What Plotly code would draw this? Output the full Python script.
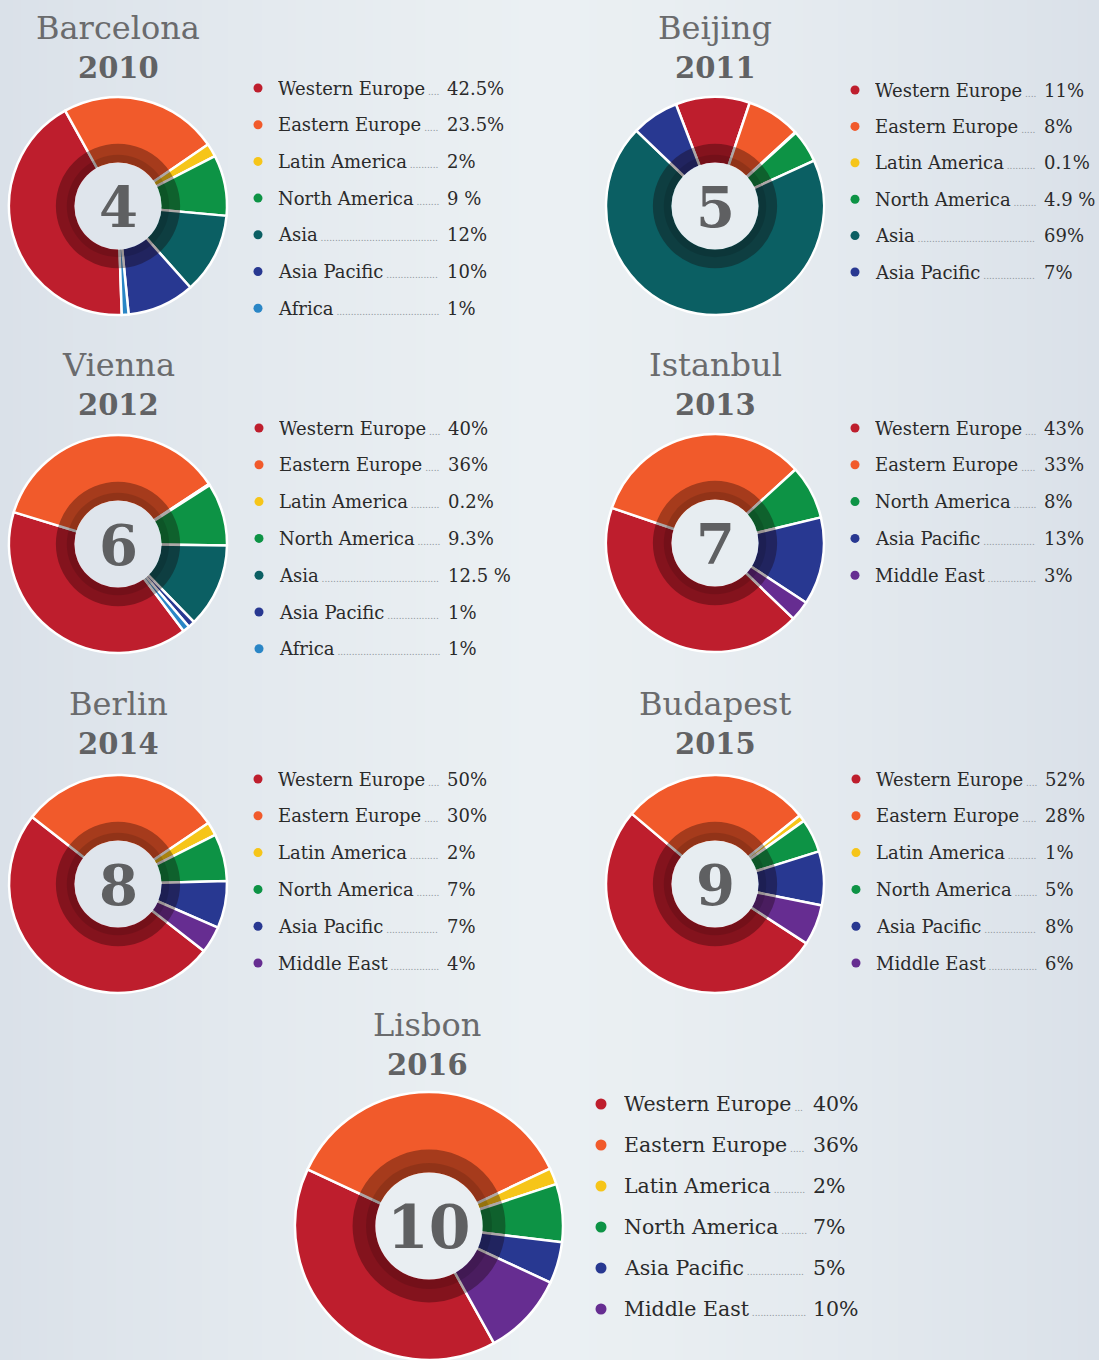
import base64
import struct
import zlib

import plotly.graph_objects as go

W, H = 1099, 1360

# ---------------- data ----------------
region_colors = {
    "Western Europe": "#be1e2d",
    "Eastern Europe": "#f15a2b",
    "Latin America": "#f6c519",
    "North America": "#0d9345",
    "Asia": "#0b5f63",
    "Asia Pacific": "#283891",
    "Africa": "#2a86c6",
    "Middle East": "#662d91",
}

cities = ["Barcelona", "Beijing", "Vienna", "Istanbul", "Berlin", "Budapest", "Lisbon"]
years = ["2010", "2011", "2012", "2013", "2014", "2015", "2016"]
editions = ["4", "5", "6", "7", "8", "9", "10"]

barcelona_regions = ["Western Europe", "Eastern Europe", "Latin America", "North America", "Asia", "Asia Pacific", "Africa"]
barcelona_values = [42.5, 23.5, 2, 9, 12, 10, 1]
barcelona_text = ["42.5%", "23.5%", "2%", "9 %", "12%", "10%", "1%"]

beijing_regions = ["Western Europe", "Eastern Europe", "Latin America", "North America", "Asia", "Asia Pacific"]
beijing_values = [11, 8, 0.1, 4.9, 69, 7]
beijing_text = ["11%", "8%", "0.1%", "4.9 %", "69%", "7%"]

vienna_regions = ["Western Europe", "Eastern Europe", "Latin America", "North America", "Asia", "Asia Pacific", "Africa"]
vienna_values = [40, 36, 0.2, 9.3, 12.5, 1, 1]
vienna_text = ["40%", "36%", "0.2%", "9.3%", "12.5 %", "1%", "1%"]

istanbul_regions = ["Western Europe", "Eastern Europe", "North America", "Asia Pacific", "Middle East"]
istanbul_values = [43, 33, 8, 13, 3]
istanbul_text = ["43%", "33%", "8%", "13%", "3%"]

berlin_regions = ["Western Europe", "Eastern Europe", "Latin America", "North America", "Asia Pacific", "Middle East"]
berlin_values = [50, 30, 2, 7, 7, 4]
berlin_text = ["50%", "30%", "2%", "7%", "7%", "4%"]

budapest_regions = ["Western Europe", "Eastern Europe", "Latin America", "North America", "Asia Pacific", "Middle East"]
budapest_values = [52, 28, 1, 5, 8, 6]
budapest_text = ["52%", "28%", "1%", "5%", "8%", "6%"]

lisbon_regions = ["Western Europe", "Eastern Europe", "Latin America", "North America", "Asia Pacific", "Middle East"]
lisbon_values = [40, 36, 2, 7, 5, 10]
lisbon_text = ["40%", "36%", "2%", "7%", "5%", "10%"]

panel_regions = [barcelona_regions, beijing_regions, vienna_regions, istanbul_regions,
                 berlin_regions, budapest_regions, lisbon_regions]
panel_values = [barcelona_values, beijing_values, vienna_values, istanbul_values,
                berlin_values, budapest_values, lisbon_values]
panel_text = [barcelona_text, beijing_text, vienna_text, istanbul_text,
              berlin_text, budapest_text, lisbon_text]

# ---------------- layout of panels (pixels) ----------------
panels = [
    dict(cx=118, cy=206, r=109, rot=178, tx=118, ty=28, yy=68, dx=258, lx=277, vx=446, r0=88, st=36.7, fs=18, ns=56),
    dict(cx=715, cy=206, r=109, rot=-21, tx=715, ty=28, yy=68, dx=855, lx=874, vx=1043, r0=90, st=36.4, fs=18, ns=56),
    dict(cx=118, cy=544, r=109, rot=143, tx=118, ty=365, yy=405, dx=259, lx=278, vx=447, r0=428, st=36.8, fs=18, ns=56),
    dict(cx=715, cy=543, r=109, rot=134, tx=715, ty=365, yy=405, dx=855, lx=874, vx=1043, r0=428, st=36.8, fs=18, ns=56),
    dict(cx=118, cy=884, r=109, rot=128, tx=118, ty=704, yy=744, dx=258, lx=277, vx=446, r0=779, st=36.8, fs=18, ns=56),
    dict(cx=715, cy=884, r=109, rot=123, tx=715, ty=704, yy=744, dx=856, lx=875, vx=1044, r0=779, st=36.8, fs=18, ns=56),
    dict(cx=429, cy=1226, r=134, rot=151, tx=427, ty=1025, yy=1065, dx=601, lx=623, vx=812, r0=1104, st=41, fs=20.5, ns=60),
]

HOLE = 0.40
RING = 0.57
FONT = "DejaVu Serif"

# approximate DejaVu Serif advance widths (em) used only to size the dot leaders
CHAR_EM = {
    "W": 1.03, "E": 0.73, "L": 0.64, "N": 0.80, "A": 0.72, "P": 0.66, "M": 0.92,
    "a": 0.60, "e": 0.59, "s": 0.51, "t": 0.40, "r": 0.48, "n": 0.64, "u": 0.64,
    "o": 0.60, "p": 0.64, "i": 0.32, "c": 0.56, "m": 0.95, "h": 0.64, "l": 0.32,
    "f": 0.37, "d": 0.64, "k": 0.60, " ": 0.32,
}

edge_rgb = (218, 225, 233)
mid_rgb = (235, 240, 243)


def bg_at(frac):
    t = abs(frac - 0.5) * 2
    t = t ** 1.3
    return tuple(int(round(mid_rgb[c] + (edge_rgb[c] - mid_rgb[c]) * t)) for c in range(3))


def _png(width, height, rows):
    raw = b"".join(b"\x00" + bytes(row) for row in rows)

    def chunk(tag, data):
        return (struct.pack(">I", len(data)) + tag + data
                + struct.pack(">I", zlib.crc32(tag + data) & 0xFFFFFFFF))

    return (b"\x89PNG\r\n\x1a\n"
            + chunk(b"IHDR", struct.pack(">IIBBBBB", width, height, 8, 2, 0, 0, 0))
            + chunk(b"IDAT", zlib.compress(raw))
            + chunk(b"IEND", b""))


gw = 128
grow = []
for i in range(gw):
    grow.extend(bg_at((i + 0.5) / gw))
bg_uri = "data:image/png;base64," + base64.b64encode(_png(gw, 2, [grow, grow])).decode()

fig = go.Figure()


def dom(cx, cy, r):
    return dict(x=[(cx - r) / W, (cx + r) / W],
                y=[max(0.0, 1 - (cy + r) / H), min(1.0, 1 - (cy - r) / H)])


annotations = []
for i, p in enumerate(panels):
    regs = panel_regions[i]
    vals = panel_values[i]
    cols = [region_colors[g] for g in regs]
    fig.add_trace(go.Pie(
        labels=regs, values=vals, sort=False, direction="clockwise", rotation=p["rot"],
        hole=0, textinfo="none", hoverinfo="label+percent", showlegend=False,
        marker=dict(colors=cols, line=dict(color="white", width=2.5)),
        domain=dom(p["cx"], p["cy"], p["r"]),
    ))
    rr = p["r"] * RING
    fig.add_trace(go.Pie(
        values=[1], labels=[""], sort=False, hole=HOLE / RING, textinfo="none", hoverinfo="skip",
        showlegend=False, marker=dict(colors=["rgba(20,0,0,0.34)"], line=dict(width=0)),
        domain=dom(p["cx"], p["cy"], rr),
    ))
    rr2 = p["r"] * (HOLE + 0.07)
    fig.add_trace(go.Pie(
        values=[1], labels=[""], sort=False, hole=HOLE / (HOLE + 0.07), textinfo="none", hoverinfo="skip",
        showlegend=False, marker=dict(colors=["rgba(0,0,0,0.12)"], line=dict(width=0)),
        domain=dom(p["cx"], p["cy"], rr2),
    ))
    cc = bg_at(p["cx"] / W)
    fig.add_trace(go.Pie(
        values=[1], labels=[""], sort=False, textinfo="none", hoverinfo="skip", showlegend=False,
        marker=dict(colors=["rgb(%d,%d,%d)" % cc], line=dict(width=0)),
        domain=dom(p["cx"], p["cy"], p["r"] * HOLE),
    ))

    ys = [p["r0"] + k * p["st"] for k in range(len(regs))]
    fig.add_trace(go.Scatter(
        x=[p["dx"]] * len(regs), y=ys, mode="markers", hoverinfo="skip", showlegend=False,
        marker=dict(color=cols, size=9 if p["fs"] < 20 else 11),
        xaxis="x", yaxis="y",
    ))
    box_w = p["vx"] - p["lx"] - 5
    for k, g in enumerate(regs):
        est = sum(CHAR_EM.get(ch, 0.6) for ch in g) * p["fs"]
        n_dots = max(2, int((box_w - est - 4) / 2.9))
        dots = '<span style="font-size:9px;color:#8f959a"> ' + "." * n_dots + "</span>"
        annotations.append(dict(
            x=p["lx"], y=ys[k], xref="x", yref="y", xanchor="left", yanchor="middle",
            text=g + dots, width=box_w, align="left", showarrow=False,
            font=dict(family=FONT, size=p["fs"], color="#2a2a2a"), borderpad=0,
        ))
        annotations.append(dict(
            x=p["vx"], y=ys[k], xref="x", yref="y", xanchor="left", yanchor="middle",
            text=panel_text[i][k], showarrow=False, borderpad=0,
            font=dict(family=FONT, size=p["fs"], color="#2a2a2a"),
        ))

    annotations.append(dict(
        x=p["tx"], y=p["ty"], xref="x", yref="y", xanchor="center", yanchor="middle",
        text=cities[i], showarrow=False,
        font=dict(family=FONT, size=32, color="#6a6b6d"),
    ))
    annotations.append(dict(
        x=p["tx"], y=p["yy"], xref="x", yref="y", xanchor="center", yanchor="middle",
        text="<b>" + years[i] + "</b>", showarrow=False,
        font=dict(family=FONT, size=29, color="#616264"),
    ))
    annotations.append(dict(
        x=p["cx"], y=p["cy"] + 1, xref="x", yref="y", xanchor="center", yanchor="middle",
        text="<b>" + editions[i] + "</b>", showarrow=False,
        font=dict(family=FONT, size=p["ns"], color="#5f6062"),
    ))

fig.update_layout(
    width=W, height=H, margin=dict(l=0, r=0, t=0, b=0),
    paper_bgcolor="#e2e8ec", plot_bgcolor="rgba(0,0,0,0)",
    xaxis=dict(range=[0, W], visible=False, domain=[0, 1], fixedrange=True),
    yaxis=dict(range=[H, 0], visible=False, domain=[0, 1], fixedrange=True),
    annotations=annotations,
    images=[dict(source=bg_uri, xref="paper", yref="paper", x=0, y=1, sizex=1, sizey=1,
                 sizing="stretch", layer="below", xanchor="left", yanchor="top")],
    showlegend=False,
)

fig.write_html("out.html", config={"displayModeBar": False},
               post_script="document.body.style.margin='0px';document.body.style.overflow='hidden';")
